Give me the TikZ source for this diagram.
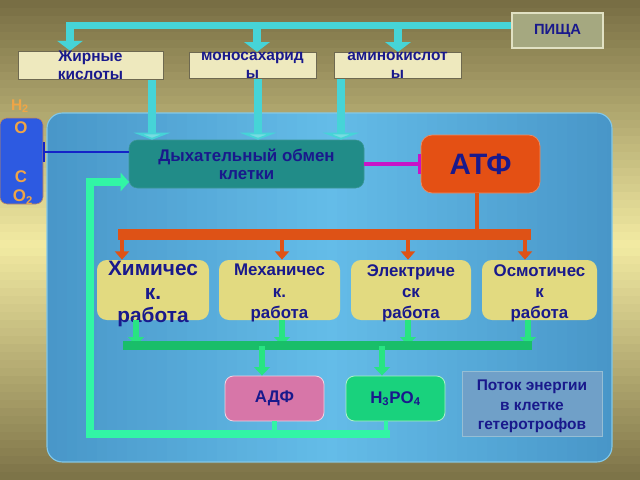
\documentclass[tikz,border=0pt]{standalone}
\usepackage{fontspec}
\setmainfont{Liberation Sans}
\usetikzlibrary{arrows.meta}
\definecolor{navy}{RGB}{25,25,140}
\definecolor{bgdark}{RGB}{118,108,66}
\definecolor{bglight}{RGB}{242,234,162}
\definecolor{pnlmid}{RGB}{100,188,232}
\definecolor{pnledge}{RGB}{72,150,200}
\definecolor{pipecyan}{RGB}{70,212,215}
\definecolor{orng}{RGB}{222,82,22}
\definecolor{grn}{RGB}{40,228,130}
\definecolor{grnbar}{RGB}{25,190,105}
\definecolor{loopgrn}{RGB}{50,245,165}
\definecolor{waterorange}{RGB}{240,165,70}
\begin{document}
\begin{tikzpicture}[x=0.025cm,y=-0.025cm,
  lbl/.style={text=navy,font=\bfseries,align=center,inner sep=0pt},
  boxbase/.style={lbl,minimum width=#1*0.025cm},
  topbox/.style={boxbase=#1,minimum height=25*0.025cm,draw={rgb,255:red,110;green,105;blue,80},line width=0.6pt,
     fill={rgb,255:red,238;green,233;blue,190},
     font=\bfseries\fontsize{11}{12.8}\selectfont},
  workbox/.style={minimum width=#1*0.025cm,minimum height=60*0.025cm,rounded corners=7pt,inner sep=0pt,
     fill={rgb,255:red,226;green,218;blue,128}},
  worktext/.style={lbl,font=\bfseries\fontsize{12}{15}\selectfont},
  cyanarr/.style={draw=pipecyan,line width=5pt,-{Triangle[width=18pt,length=7pt]}},
  cyanin/.style={draw=pipecyan,line width=5pt,-{Triangle[width=26pt,length=5pt,fill={rgb,255:red,120;green,220;blue,225}]}},
  orarr/.style={draw=orng,line width=3.5pt,-{Triangle[width=10pt,length=6pt]}},
  grarr/.style={draw=grn,line width=4pt,-{Triangle[width=11pt,length=6pt]}}]
\useasboundingbox (0,0) rectangle (640,480);
% background: vertical gradient drawn as stripes
\foreach \i in {0,...,59}{
  \pgfmathtruncatemacro{\p}{abs(\i*8+4-245)/245*100}
  \fill[bgdark!\p!bglight] (0,\i*8) rectangle (640,\i*8+8.6);
}
% blue panel: horizontal gradient as stripes, clipped
\begin{scope}
\clip[rounded corners=11pt] (47,113) rectangle (612,462);
\foreach \i in {0,...,56}{
  \pgfmathtruncatemacro{\p}{abs(\i*10+5-282)/282*100}
  \fill[pnledge!\p!pnlmid] (47+\i*10,113) rectangle (47+\i*10+10.6,462);
}
\end{scope}
\draw[rounded corners=11pt,draw={rgb,255:red,130;green,200;blue,232},line width=0.8pt] (47,113) rectangle (612,462);

% top boxes
\node[lbl,minimum width=91*0.025cm,minimum height=35*0.025cm,draw={rgb,255:red,225;green,225;blue,195},line width=0.8pt,
  fill={rgb,255:red,165;green,168;blue,128},font=\bfseries\fontsize{10.5}{12}\selectfont]
  (pischa) at (557.5,30.5) {ПИЩА};
\node[topbox=145] (fat) at (90.5,65.5) {Жирные\\кислоты};
\node[topbox=127] (mono) at (252.5,65.5) {моносахарид\\ы};
\node[topbox=127] (amino) at (397.5,65.5) {аминокислот\\ы};

% H2O / CO2 box
\node[minimum width=43*0.025cm,minimum height=86*0.025cm,rounded corners=5pt,inner sep=0pt,
  fill={rgb,255:red,45;green,90;blue,225},
  draw={rgb,255:red,200;green,140;blue,90},line width=0.4pt] (gas) at (21.5,161) {};
\node[text=waterorange,font=\bfseries\fontsize{11}{12}\selectfont,inner sep=0pt] (h2) at (20,106) {H\textsubscript{2}};
\node[text=waterorange,font=\bfseries\fontsize{12}{12}\selectfont,inner sep=0pt] (o1) at (21,128) {O};
\node[text=waterorange,font=\bfseries\fontsize{12}{12}\selectfont,inner sep=0pt] (c1) at (21,177) {C};
\node[text=waterorange,font=\bfseries\fontsize{12}{12}\selectfont,inner sep=0pt] (o2) at (23,197) {O\textsubscript{2}};

% respiration box
\node[lbl,minimum width=235*0.025cm,minimum height=48*0.025cm,rounded corners=6pt,
  fill={rgb,255:red,33;green,140;blue,136},
  draw={rgb,255:red,60;green,150;blue,150},line width=0.4pt,font=\bfseries\fontsize{12}{13}\selectfont]
  (resp) at (246.5,164) {Дыхательный обмен\\клетки};
% ATF box
\node[lbl,minimum width=119*0.025cm,minimum height=58*0.025cm,rounded corners=8pt,
  fill={rgb,255:red,228;green,80;blue,20},
  draw={rgb,255:red,235;green,140;blue,100},line width=0.5pt,font=\bfseries\fontsize{21}{22}\selectfont]
  (atf) at (480.5,164) {АТФ};

% work boxes
\node[workbox=112] (chem) at (153,290) {};
\node[workbox=121] (mech) at (279.5,290) {};
\node[workbox=120] (elec) at (411,290) {};
\node[workbox=115] (osm) at (539.5,290) {};
\node[lbl,font=\bfseries\fontsize{14.8}{16.4}\selectfont] (chemt) at (153,294) {Химичес\\к.\\работа};
\node[worktext] (mecht) at (279.5,293) {Механичес\\к.\\работа};
\node[worktext] (elect) at (411,293) {Электриче\\ск\\работа};
\node[worktext] (osmt) at (539.5,293) {Осмотичес\\к\\работа};

% ADF, H3PO4, flow
\node[lbl,minimum width=99*0.025cm,minimum height=45*0.025cm,rounded corners=6pt,
  fill={rgb,255:red,215;green,118;blue,168},
  draw={rgb,255:red,240;green,210;blue,225},line width=0.6pt,font=\bfseries\fontsize{12}{13}\selectfont]
  (adf) at (274.5,398.5) {АДФ};
\node[lbl,minimum width=99*0.025cm,minimum height=45*0.025cm,rounded corners=6pt,
  fill={rgb,255:red,25;green,210;blue,125},
  draw={rgb,255:red,170;green,240;blue,200},line width=0.6pt,font=\bfseries\fontsize{12}{13}\selectfont]
  (h3) at (395.5,398.5) {H\textsubscript{3}PO\textsubscript{4}};
\node[minimum width=140*0.025cm,minimum height=65*0.025cm,inner sep=0pt,
  fill={rgb,255:red,112;green,160;blue,200},
  draw={rgb,255:red,150;green,190;blue,212},line width=0.6pt]
  (flow) at (532,403.5) {};
\node[lbl,font=\bfseries\fontsize{11}{14}\selectfont] (flowt) at (532,406.5) {Поток энергии\\в клетке\\гетеротрофов};

% helper coordinates
\coordinate (ptop) at (70,25.5);
\coordinate (xm) at (257,0);
\coordinate (xa) at (398,0);
\coordinate (xf2) at (152,0);
\coordinate (xm2) at (258,0);
\coordinate (xa2) at (341,0);
\coordinate (gl) at (0,152);
\coordinate (xatf) at (477,0);
\coordinate (obar) at (118,234.5);
\coordinate (obarE) at (531,234.5);
\coordinate (x1) at (122,0);
\coordinate (x2) at (282,0);
\coordinate (x3) at (408,0);
\coordinate (x4) at (525,0);
\coordinate (gbar) at (123,345.5);
\coordinate (gbarE) at (532,345.5);
\coordinate (g1) at (136,0);
\coordinate (g2) at (282,0);
\coordinate (g3) at (408,0);
\coordinate (g4) at (528,0);
\coordinate (gd1) at (262,0);
\coordinate (gd2) at (382,0);
\coordinate (lb) at (90,434);
\coordinate (lbE) at (390,434);
\coordinate (lc) at (90,182);
\coordinate (rin) at (129,182);
\coordinate (xh) at (386,0);

% cyan distribution from food
\draw[draw=pipecyan,line width=5pt] (pischa.west |- ptop) -- (ptop);
\draw[cyanarr] ([yshift=2.5pt]ptop) -- (fat.north -| ptop);
\draw[cyanarr] (ptop -| xm) -- (mono.north -| xm);
\draw[cyanarr] (ptop -| xa) -- (amino.north -| xa);
% cyan into respiration
\draw[cyanin] (fat.south -| xf2) -- (resp.north -| xf2);
\draw[cyanin] (mono.south -| xm2) -- (resp.north -| xm2);
\draw[cyanin] (amino.south -| xa2) -- (resp.north -| xa2);

% gas line and ATF line
\draw[draw={rgb,255:red,20;green,35;blue,200},line width=1.3pt,{Bar[width=14pt]}-] (gas.east |- gl) -- (resp.west |- gl);
\draw[draw={rgb,255:red,200;green,20;blue,200},line width=2.2pt,-{Bar[width=14pt]}] (resp.east) -- (atf.west);

% orange distribution
\draw[draw=orng,line width=3.5pt] (atf.south -| xatf) -- (obar -| xatf);
\draw[draw=orng,line width=8pt] (obar) -- (obarE);
\draw[orarr] (obar -| x1) -- (chem.north -| x1);
\draw[orarr] (obar -| x2) -- (mech.north -| x2);
\draw[orarr] (obar -| x3) -- (elec.north -| x3);
\draw[orarr] (obar -| x4) -- (osm.north -| x4);

% green collection
\draw[grarr] (chem.south -| g1) -- (gbar -| g1);
\draw[grarr] (mech.south -| g2) -- (gbar -| g2);
\draw[grarr] (elec.south -| g3) -- (gbar -| g3);
\draw[grarr] (osm.south -| g4) -- (gbar -| g4);
\draw[draw=grnbar,line width=6.5pt] (gbar) -- (gbarE);
\draw[grarr] (gbar -| gd1) -- (adf.north -| gd1);
\draw[grarr] (gbar -| gd2) -- (h3.north -| gd2);

% green return loop
\draw[draw=loopgrn,line width=3.5pt] (adf.south) -- (adf.south |- lb);
\draw[draw=loopgrn,line width=3.5pt] (h3.south -| xh) -- (lb -| xh);
\draw[draw=loopgrn,line width=6pt,line join=miter,-{Triangle[width=13pt,length=6pt]}] (lbE) -- (lb) -- (lc) -- (rin);
\end{tikzpicture}
\end{document}
